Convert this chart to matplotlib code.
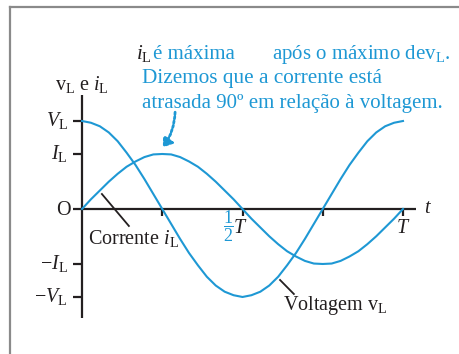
import numpy as np
import matplotlib
matplotlib.use("Agg")
import matplotlib.pyplot as plt
from matplotlib.lines import Line2D

plt.rcParams['font.family'] = ['Liberation Serif', 'DejaVu Serif']
plt.rcParams['mathtext.fontset'] = 'custom'
plt.rcParams['mathtext.rm'] = 'Liberation Serif'
plt.rcParams['mathtext.it'] = 'Liberation Serif:italic'

BLUE = '#1e98d4'
INK = '#231f20'

# one period, sampled every T/36
t_frac = [k / 36 for k in range(37)]
v_L = [1.00, 0.98, 0.94, 0.87, 0.77, 0.64, 0.50, 0.34, 0.17, 0.00,
       -0.17, -0.34, -0.50, -0.64, -0.77, -0.87, -0.94, -0.98, -1.00,
       -0.98, -0.94, -0.87, -0.77, -0.64, -0.50, -0.34, -0.17, 0.00,
       0.17, 0.34, 0.50, 0.64, 0.77, 0.87, 0.94, 0.98, 1.00]
i_L = [0.00, 0.11, 0.21, 0.31, 0.40, 0.48, 0.54, 0.59, 0.62, 0.625,
       0.62, 0.59, 0.54, 0.48, 0.40, 0.31, 0.21, 0.11, 0.00,
       -0.11, -0.21, -0.31, -0.40, -0.48, -0.54, -0.59, -0.62, -0.625,
       -0.62, -0.59, -0.54, -0.48, -0.40, -0.31, -0.21, -0.11, 0.00]

V_amp = 1.0
I_amp = 0.625
y_ticks = [V_amp, I_amp, 0.0, -I_amp, -V_amp]
y_labels = [r'$V_{\mathrm{L}}$', r'$I_{\mathrm{L}}$', 'O', r'$-I_{\mathrm{L}}$', r'$-V_{\mathrm{L}}$']
t_ticks = [0.25, 0.5, 0.75, 1.0]

fig = plt.figure(figsize=(4.6, 3.54), dpi=100)
ax = fig.add_axes([0, 0, 1, 1])
ax.set_xlim(-0.2555, 1.1776)
ax.set_ylim(-1.648, 2.375)
ax.axis('off')

# box around the figure
fig.add_artist(Line2D([0.0217, 0.0217], [0, 0.980], color='#8a8a8a', lw=1.6,
                      transform=fig.transFigure))
fig.add_artist(Line2D([0.0217, 1.0], [0.980, 0.980], color='#8a8a8a', lw=1.6,
                      transform=fig.transFigure))

# axes
ax.plot([0, 0], [-1.24, 1.30], color=INK, lw=1.6, solid_capstyle='butt')
ax.plot([0, 1.04], [0, 0], color=INK, lw=1.6, solid_capstyle='butt')
for y, lab in zip(y_ticks, y_labels):
    ax.plot([-0.027, 0], [y, y], color=INK, lw=1.6, solid_capstyle='butt')
    if lab == 'O':
        ax.text(-0.034, y - 0.07, lab, ha='right', va='baseline', fontsize=14.5, color=INK)
    else:
        ax.text(-0.044, y - 0.06, lab, ha='right', va='baseline', fontsize=14.5, color=INK)
for tt in t_ticks:
    ax.plot([tt, tt], [0, -0.08], color=INK, lw=1.6, solid_capstyle='butt')

ax.text(-0.084, 1.352, r'$\mathrm{v}_{\mathrm{L}}$ e $i_{\mathrm{L}}$', ha='left', va='baseline',
        fontsize=14.5, color=INK)
ax.text(1.065, -0.045, r'$t$', ha='left', va='baseline', fontsize=14.5, color=INK)
ax.text(0.457, -0.2, r'$\dfrac{1}{2}$', ha='center', va='center', fontsize=13, color=BLUE)
ax.text(0.47, -0.273, r'$T$', ha='left', va='baseline', fontsize=14.5, color=INK)
ax.text(1.0, -0.273, r'$T$', ha='center', va='baseline', fontsize=14.5, color=INK)

# curves
ax.plot(t_frac, v_L, color=BLUE, lw=1.5)
ax.plot(t_frac, i_L, color=BLUE, lw=1.5)

# curve labels with leader lines
ax.plot([0.062, 0.146], [0.17, -0.193], color=INK, lw=1.3)
ax.text(0.019, -0.40, r'Corrente $i_{\mathrm{L}}$', ha='left', va='baseline', fontsize=14.5, color=INK)
ax.plot([0.617, 0.660], [-0.807, -0.966], color=INK, lw=1.3)
ax.text(0.627, -1.148, r'Voltagem $\mathrm{v}_{\mathrm{L}}$', ha='left', va='baseline', fontsize=14.5,
        color=INK)

# explanation
ax.text(0.168, 1.705, r'$i_{\mathrm{L}}$', ha='left', va='baseline', fontsize=15, color=INK)
ax.text(0.222, 1.705, 'é máxima', ha='left', va='baseline', fontsize=15, color=BLUE)
ax.text(0.592, 1.705, r'após o máximo de$\mathrm{v}_{\mathrm{L}}$.', ha='left', va='baseline',
        fontsize=15, color=BLUE)
ax.text(0.187, 1.432, 'Dizemos que a corrente está', ha='left', va='baseline', fontsize=15.3, color=BLUE)
ax.text(0.187, 1.148, 'atrasada 90º em relação à voltagem.', ha='left', va='baseline', fontsize=15,
        color=BLUE)
ax.annotate('', xy=(0.252, 0.70), xytext=(0.29, 1.10),
            arrowprops=dict(arrowstyle='-|>,head_length=0.5,head_width=0.35', color=BLUE, lw=2.0,
                            linestyle=(0, (0.8, 0.8)), connectionstyle='arc3,rad=-0.15',
                            shrinkA=0, shrinkB=0))

fig.savefig('out.png', dpi=100)
